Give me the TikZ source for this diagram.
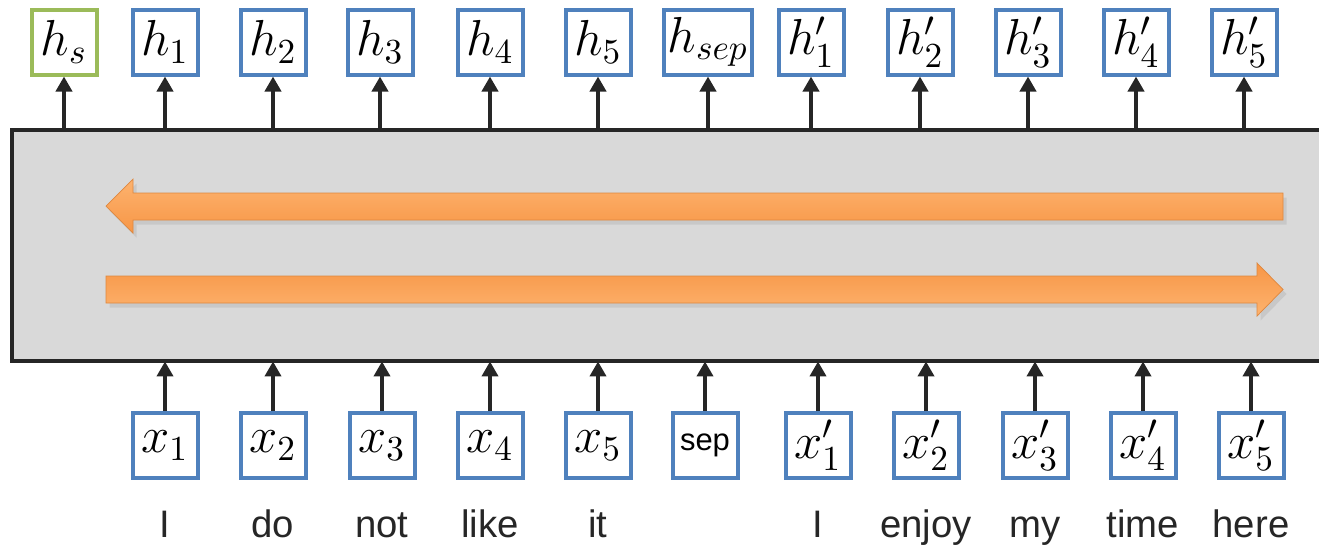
\documentclass[tikz,border=0pt]{standalone}
\usepackage{fontspec}
\setsansfont{Liberation Sans}
\usetikzlibrary{arrows.meta,shadows}

\definecolor{boxblue}{HTML}{4F81BD}
\definecolor{boxgreen}{HTML}{9BBB59}
\definecolor{encgray}{HTML}{D9D9D9}
\definecolor{darkline}{HTML}{262626}
\definecolor{orangedark}{HTML}{F79646}
\definecolor{orangelight}{HTML}{FDB36F}

\tikzset{
  tok/.style={draw=boxblue, line width=0.4mm, fill=white, minimum size=6.5mm,
              inner sep=1pt, font=\fontsize{14}{16}\selectfont},
  word/.style={font=\sffamily\fontsize{10.9}{12}\selectfont, text=darkline, anchor=base},
  up/.style={draw=darkline, line width=0.4mm, -{Triangle[length=1.5mm,width=1.6mm]}},
  bar/.style={draw=orangedark!90!black, line width=0.2pt,
              drop shadow={shadow xshift=0.35mm, shadow yshift=-0.45mm, opacity=0.18}},
}

\begin{document}
\begin{tikzpicture}[x=0.1mm, y=-0.1mm]
  \useasboundingbox (0,0) rectangle (1319,544);

  % encoder block (open on the right)
  \node[fill=encgray, minimum width=130.7mm, minimum height=23mm, inner sep=0pt,
        anchor=north west] (enc) at (12,130) {};
  \draw[darkline, line width=0.4mm] (enc.north east) -- (enc.north west)
        -- (enc.south west) -- (enc.south east);

  % backward and forward directions
  \path[bar, top color=orangelight, bottom color=orangedark]
    (106,206) -- (133,179) -- (133,193) -- (1283,193) -- (1283,220)
    -- (133,220) -- (133,233) -- cycle;
  \path[bar, top color=orangedark, bottom color=orangelight]
    (106,276) -- (1257,276) -- (1257,263) -- (1283,289.5) -- (1257,316)
    -- (1257,303) -- (106,303) -- cycle;

  % outputs
  \node[tok, draw=boxgreen] (hs) at (64,42) {$h_s$};
  \foreach \n/\x/\lab in {h1/165/h_1, h2/273/h_2, h3/380/h_3, h4/490/h_4,
      h5/598/h_5, hp1/811/h'_1, hp2/920/h'_2, hp3/1028/h'_3, hp4/1136/h'_4,
      hp5/1244/h'_5}
    \node[tok] (\n) at (\x,42) {$\lab$};
  \node[tok, minimum width=8.5mm] (hsep) at (708,42) {$h_{sep}$};

  \foreach \n in {hs,h1,h2,h3,h4,h5,hsep,hp1,hp2,hp3,hp4,hp5}
    \draw[up] (enc.north -| \n) -- (\n);

  % inputs and words
  \foreach \n/\x/\lab/\w in {x1/165/x_1/I, x2/273/x_2/do, x3/382/x_3/not,
      x4/490/x_4/like, x5/598/x_5/it, xp1/818/x'_1/I, xp2/926/x'_2/enjoy,
      xp3/1035/x'_3/my, xp4/1143/x'_4/time, xp5/1251/x'_5/here} {
    \node[tok] (\n) at (\x,445.5) {$\lab$};
    \node[word] (w\n) at (\x,537) {\w};
  }
  \node[tok, font=\sffamily\fontsize{8.8}{10}\selectfont] (xsep) at (705,445.5) {sep};

  \foreach \n in {x1,x2,x3,x4,x5,xsep,xp1,xp2,xp3,xp4,xp5}
    \draw[up] (\n) -- (enc.south -| \n);
\end{tikzpicture}
\end{document}
